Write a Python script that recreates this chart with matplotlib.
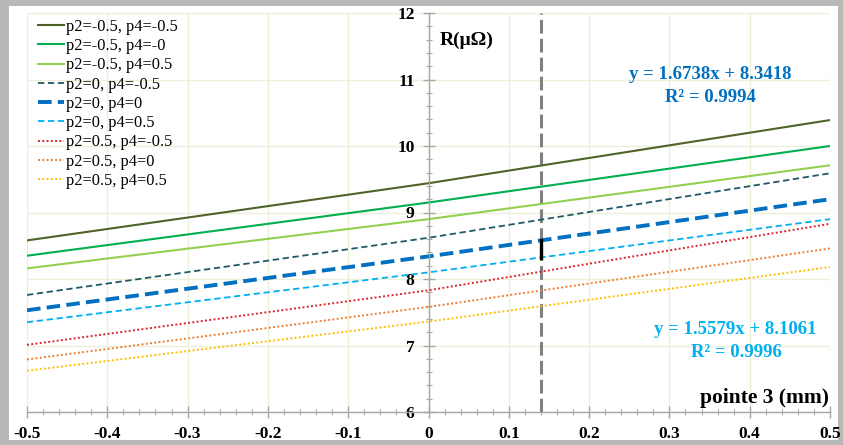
import matplotlib
matplotlib.use("Agg")
import matplotlib.pyplot as plt
from matplotlib.patches import Rectangle
from matplotlib.ticker import MultipleLocator

plt.rcParams['font.family'] = ['Liberation Serif', 'DejaVu Serif']

# valeurs (x = pointe 3 en mm)
x = [-0.5, 0.0, 0.5]
labels = ['p2=-0.5, p4=-0.5', 'p2=-0.5, p4=-0', 'p2=-0.5, p4=0.5',
          'p2=0, p4=-0.5', 'p2=0, p4=0', 'p2=0, p4=0.5',
          'p2=0.5, p4=-0.5', 'p2=0.5, p4=0', 'p2=0.5, p4=0.5']
r_m05_m05 = [8.58, 9.44, 10.39]
r_m05_0 = [8.35, 9.15, 10.00]
r_m05_05 = [8.16, 8.90, 9.71]
r_0_m05 = [7.76, 8.62, 9.59]
r_0_0 = [7.53, 8.34, 9.20]
r_0_05 = [7.35, 8.10, 8.90]
r_05_m05 = [7.01, 7.83, 8.83]
r_05_0 = [6.79, 7.58, 8.46]
r_05_05 = [6.62, 7.36, 8.18]
series = [r_m05_m05, r_m05_0, r_m05_05, r_0_m05, r_0_0, r_0_05, r_05_m05, r_05_0, r_05_05]

x_mark = 0.14
mark_low, mark_high = 8.32, 8.58

styles = [
    dict(color='#4F6228', lw=1.5, ls='-'),
    dict(color='#00B050', lw=1.5, ls='-'),
    dict(color='#92D050', lw=1.5, ls='-'),
    dict(color='#215968', lw=1.3, ls=(0, (3.5, 2))),
    dict(color='#0070C0', lw=2.8, ls=(0, (3.5, 1.6))),
    dict(color='#00B0F0', lw=1.3, ls=(0, (3.5, 2))),
    dict(color='#D9262C', lw=1.4, ls=(0, (1, 1.2))),
    dict(color='#ED7D31', lw=1.4, ls=(0, (1, 1.2))),
    dict(color='#FFC000', lw=1.4, ls=(0, (1, 1.2))),
]

fig = plt.figure(figsize=(8.43, 4.45), dpi=100)
fig.patch.set_facecolor('#b8b8b8')
fig.add_artist(Rectangle((9 / 843, 5 / 445), 829 / 843, 434 / 445,
                         transform=fig.transFigure, facecolor='white',
                         edgecolor='none', zorder=-10))
ax = fig.add_axes([27 / 843, 1 - 412 / 445, 803 / 843, 399 / 445])
ax.set_facecolor('none')

for vals, lab, st in zip(series, labels, styles):
    ax.plot(x, vals, label=lab, **st)

ax.axvline(x_mark, color='#808080', lw=2.2, ls=(0, (4.5, 1.7)), zorder=1)
ax.plot([x_mark, x_mark], [mark_low, mark_high], color='black', lw=2.4, zorder=5)

ax.set_xlim(-0.5, 0.5)
ax.set_ylim(6, 12)
ax.xaxis.set_minor_locator(MultipleLocator(0.02))
ax.yaxis.set_major_locator(MultipleLocator(1))
ax.yaxis.set_minor_locator(MultipleLocator(0.2))
ax.set_xticks([-0.5, -0.4, -0.3, -0.2, -0.1, 0, 0.1, 0.2, 0.3, 0.4, 0.5])
ax.set_xticklabels(['-0.5', '-0.4', '-0.3', '-0.2', '-0.1', '0', '0.1', '0.2', '0.3', '0.4', '0.5'])

ax.spines['left'].set_position(('data', 0))
ax.spines['top'].set_visible(False)
ax.spines['right'].set_visible(False)
for s in ['left', 'bottom']:
    ax.spines[s].set_color('#a6a6a6')
    ax.spines[s].set_linewidth(1)
ax.grid(True, which='major', color='#ecefd9', lw=1)
ax.set_axisbelow(True)
ax.tick_params(which='major', direction='inout', length=8, color='#a6a6a6', width=1)
ax.tick_params(which='minor', direction='inout', length=5, color='#a6a6a6', width=0.8)
ax.tick_params(axis='x', which='major', pad=6, labelsize=12.5)
ax.tick_params(axis='y', which='major', pad=6, labelsize=12.5)
for t in ax.get_xticklabels() + ax.get_yticklabels():
    t.set_fontweight('bold')

ax.text(0.514, 0.932, 'R(μΩ)', transform=ax.transAxes, fontsize=14,
        fontweight='bold', ha='left', va='center')
ax.text(0.999, 0.035, 'pointe 3 (mm)', transform=ax.transAxes, fontsize=15.5,
        fontweight='bold', ha='right', va='center')
ax.text(0.8506, 0.847, 'y = 1.6738x + 8.3418', transform=ax.transAxes, fontsize=13.5,
        fontweight='bold', color='#0070C0', ha='center', va='center')
ax.text(0.8506, 0.789, 'R² = 0.9994', transform=ax.transAxes, fontsize=13.5,
        fontweight='bold', color='#0070C0', ha='center', va='center')
ax.text(0.882, 0.208, 'y = 1.5579x + 8.1061', transform=ax.transAxes, fontsize=13.5,
        fontweight='bold', color='#00B0F0', ha='center', va='center')
ax.text(0.884, 0.150, 'R² = 0.9996', transform=ax.transAxes, fontsize=13.5,
        fontweight='bold', color='#00B0F0', ha='center', va='center')

ax.legend(loc='upper left', bbox_to_anchor=(0.006, 1.0), frameon=False, fontsize=11.8,
          handlelength=1.6, handletextpad=0.15, labelspacing=0.2,
          borderaxespad=0.2, borderpad=0.15)

plt.savefig('out.png', dpi=100, facecolor=fig.get_facecolor())
plt.close()
